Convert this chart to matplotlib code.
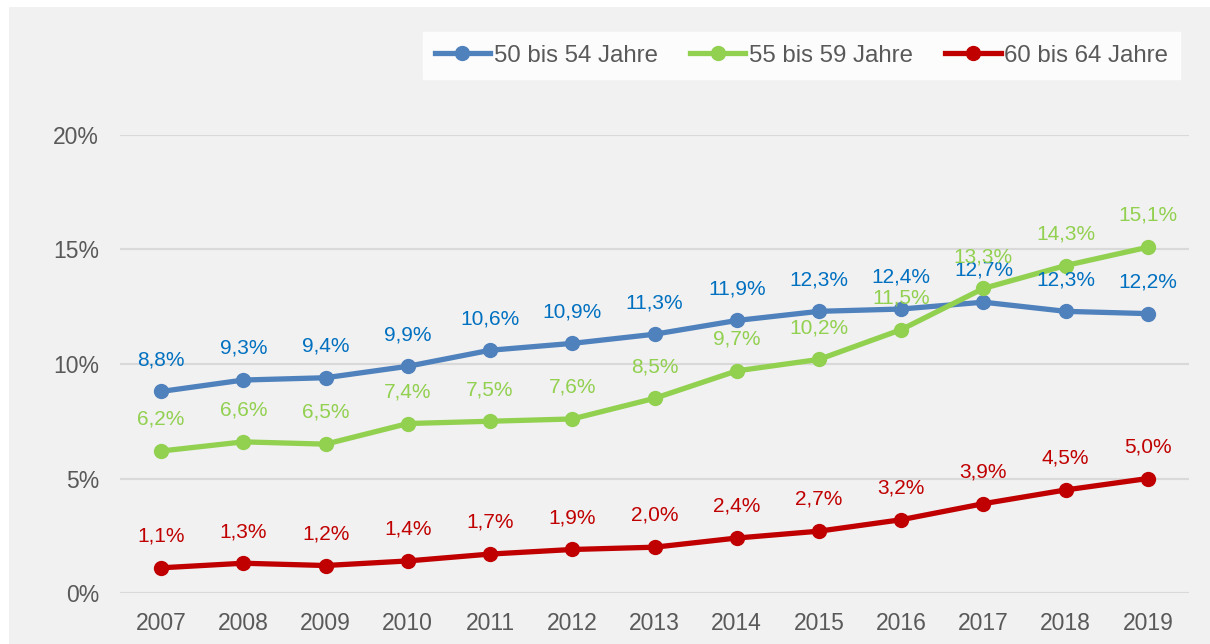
import matplotlib
matplotlib.use("Agg")
import matplotlib.pyplot as plt
from matplotlib.patches import Rectangle
from matplotlib.lines import Line2D

years = ["2007", "2008", "2009", "2010", "2011", "2012", "2013",
         "2014", "2015", "2016", "2017", "2018", "2019"]
s50 = [8.8, 9.3, 9.4, 9.9, 10.6, 10.9, 11.3, 11.9, 12.3, 12.4, 12.7, 12.3, 12.2]
s55 = [6.2, 6.6, 6.5, 7.4, 7.5, 7.6, 8.5, 9.7, 10.2, 11.5, 13.3, 14.3, 15.1]
s60 = [1.1, 1.3, 1.2, 1.4, 1.7, 1.9, 2.0, 2.4, 2.7, 3.2, 3.9, 4.5, 5.0]
names = ["50 bis 54 Jahre", "55 bis 59 Jahre", "60 bis 64 Jahre"]
yticks = [0, 5, 10, 15, 20]

plt.rcParams['font.family'] = ['Liberation Sans', 'DejaVu Sans']

W, H = 1210, 644
fig = plt.figure(figsize=(W / 100, H / 100), dpi=100)
fig.patch.set_facecolor("white")
fig.add_artist(Rectangle((9 / W, 0), 1 - 9 / W, 1 - 7 / H, transform=fig.transFigure,
                         facecolor="#f1f1f1", edgecolor="none", zorder=-10))

ax = fig.add_axes([120 / W, 1 - 593 / H, (1189 - 120) / W, (593 - 135) / H])
ax.set_facecolor("none")
ax.set_xlim(-0.5, len(years) - 0.5)
ax.set_ylim(0, 20)
for sp in ax.spines.values():
    sp.set_visible(False)
ax.set_yticks(yticks)
ax.set_yticklabels([f"{v}%" for v in yticks])
ax.set_xticks(range(len(years)))
ax.set_xticklabels(years)
ax.tick_params(length=0, labelsize=16.5, colors="#595959")
ax.tick_params(axis="y", pad=15)
ax.tick_params(axis="x", pad=14)
ax.yaxis.grid(True, color="#d9d9d9", linewidth=1.5)
ax.set_axisbelow(True)

series = [
    (s50, "#4f81bd", "#0070c0"),
    (s55, "#92d050", "#92d050"),
    (s60, "#c00000", "#c00000"),
]
handles = []
for (vals, lc, tc), name in zip(series, names):
    x = list(range(len(vals)))
    ax.plot(x, vals, color=lc, linewidth=3.8, marker="o", markersize=10,
            solid_capstyle="round", zorder=3)
    for xi, v in zip(x, vals):
        ax.annotate(f"{v:.1f}%".replace(".", ","), (xi, v), xytext=(0, 16),
                    textcoords="offset points", ha="center", va="bottom",
                    color=tc, fontsize=15, zorder=4)
    handles.append(Line2D([0], [0], color=lc, linewidth=3.8, marker="o", markersize=10))

leg = fig.legend(handles, names, loc="center", ncol=3,
                 bbox_to_anchor=((406 + 1197) / 2 / W, 1 - 55.5 / H),
                 frameon=True, fancybox=False, fontsize=17.3, handlelength=2.3,
                 handletextpad=0.15, columnspacing=1.35, borderpad=0.5)
leg.get_frame().set_facecolor("white")
leg.get_frame().set_edgecolor("white")
for t in leg.get_texts():
    t.set_color("#595959")

fig.savefig("out.png", dpi=100)
